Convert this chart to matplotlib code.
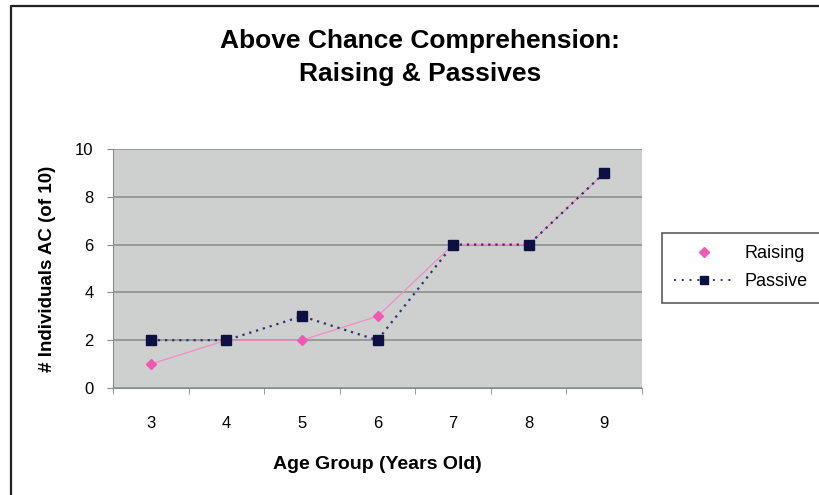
import matplotlib.pyplot as plt
from matplotlib.lines import Line2D

ages = ['3', '4', '5', '6', '7', '8', '9']
raising = [1, 2, 2, 3, 6, 6, 9]
passive = [2, 2, 3, 2, 6, 6, 9]

plt.rcParams['font.family'] = ['Liberation Sans', 'DejaVu Sans']

fig = plt.figure(figsize=(8.2, 4.95), dpi=100)
fig.patch.set_facecolor('white')
# outer chart frame (top and left edges show)
fig.add_artist(Line2D([0.014, 0.014, 1.0], [0.0, 0.988, 0.988], transform=fig.transFigure,
                      color='#222222', linewidth=1.6))

ax = fig.add_axes([0.1378, 0.2162, 0.6452, 0.4828])
ax.set_facecolor('#cdd0ce')

x = list(range(len(ages)))
ax.plot(x, raising, color='#f38cc6', linewidth=0.9, marker='D', markersize=5,
        markerfacecolor='#ee5ab0', markeredgecolor='#ee5ab0')
ax.plot(x, passive, color='#2a3270', linewidth=1.6, linestyle=(0, (1, 2.2)),
        marker='s', markersize=7, markerfacecolor='#0d1040',
        markeredgecolor='#0d1040')

ax.set_xlim(-0.5, len(ages) - 0.5)
ax.set_ylim(0, 10)
ax.set_yticks(range(0, 11, 2))
ax.set_xticks(x)
ax.set_xticklabels(ages)
ax.set_xticks([i + 0.5 for i in range(-1, len(ages))], minor=True)
ax.tick_params(axis='x', which='major', length=0, pad=20, labelsize=12)
ax.tick_params(axis='x', which='minor', length=4, color='#888888', direction='out')
ax.tick_params(axis='y', length=4, color='#888888', labelsize=12, pad=10)
ax.yaxis.grid(True, color='#8f918f', linewidth=1.2)
ax.set_axisbelow(True)
for side in ['top', 'right']:
    ax.spines[side].set_visible(False)
for side in ['left', 'bottom']:
    ax.spines[side].set_color('#8a8a8a')

ax.set_xlabel('Age Group (Years Old)', fontsize=14, fontweight='bold', labelpad=18)
ax.set_ylabel('# Individuals AC (of 10)', fontsize=13.5, fontweight='bold', labelpad=14)

fig.text(0.512, 0.918, 'Above Chance Comprehension:', ha='center', va='center',
         fontsize=19, fontweight='bold')
fig.text(0.512, 0.850, 'Raising & Passives', ha='center', va='center',
         fontsize=19, fontweight='bold')

# legend: Raising shows only its marker
handles = [
    Line2D([], [], linestyle='none', marker='D', markersize=5,
           markerfacecolor='#ee5ab0', markeredgecolor='#ee5ab0'),
    Line2D([], [], color='#2a3270', linewidth=1.4, linestyle=(0, (1, 3)),
           marker='s', markersize=6, markerfacecolor='#0d1040',
           markeredgecolor='#0d1040'),
]
leg = fig.legend(handles, ['Raising', 'Passive'], loc='upper left',
                 bbox_to_anchor=(0.807, 0.530), fontsize=13,
                 frameon=True, fancybox=False, edgecolor='#333333',
                 handlelength=3.3, handletextpad=0.6, borderpad=0.7,
                 labelspacing=0.6, borderaxespad=0)
leg.get_frame().set_linewidth(1.2)

fig.savefig('out.png', dpi=100)
